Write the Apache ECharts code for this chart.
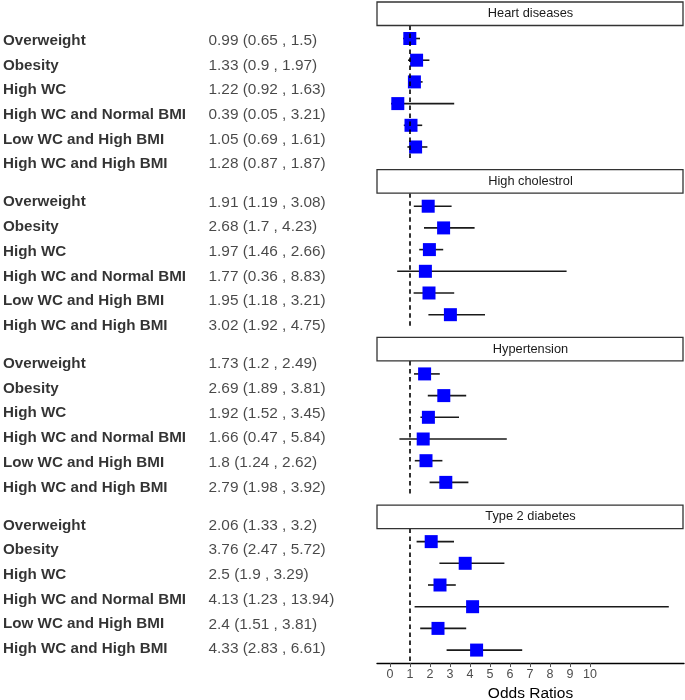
<!DOCTYPE html>
<html>
<head>
<meta charset="utf-8">
<script src="https://cdn.jsdelivr.net/npm/echarts@6/dist/echarts.min.js"></script>
<style>
  html, body { margin: 0; padding: 0; background: #fff; }
  #chart { width: 685px; height: 700px; }
</style>
</head>
<body>
<div id="chart"></div>
<script>
// panel titles and row labels
const panels = ['Heart diseases', 'High cholestrol', 'Hypertension', 'Type 2 diabetes']
const groups = ['Overweight', 'Obesity', 'High WC', 'High WC and Normal BMI', 'Low WC and High BMI', 'High WC and High BMI']

// odds ratios with 95% CI, one set per panel
const heartOR = [0.99, 1.33, 1.22, 0.39, 1.05, 1.28]
const heartLow = [0.65, 0.9, 0.92, 0.05, 0.69, 0.87]
const heartHigh = [1.5, 1.97, 1.63, 3.21, 1.61, 1.87]

const cholOR = [1.91, 2.68, 1.97, 1.77, 1.95, 3.02]
const cholLow = [1.19, 1.7, 1.46, 0.36, 1.18, 1.92]
const cholHigh = [3.08, 4.23, 2.66, 8.83, 3.21, 4.75]

const hyperOR = [1.73, 2.69, 1.92, 1.66, 1.8, 2.79]
const hyperLow = [1.2, 1.89, 1.52, 0.47, 1.24, 1.98]
const hyperHigh = [2.49, 3.81, 3.45, 5.84, 2.62, 3.92]

const diabOR = [2.06, 3.76, 2.5, 4.13, 2.4, 4.33]
const diabLow = [1.33, 2.47, 1.9, 1.23, 1.51, 2.83]
const diabHigh = [3.2, 5.72, 3.29, 13.94, 3.81, 6.61]

const xTicks = [0, 1, 2, 3, 4, 5, 6, 7, 8, 9, 10]
const refLine = 1

const panelData = [
    [heartOR, heartLow, heartHigh],
    [cholOR, cholLow, cholHigh],
    [hyperOR, hyperLow, hyperHigh],
    [diabOR, diabLow, diabHigh]
]

// layout
const plotLeft = 377, plotRight = 1
const stripTop = 2, stripH = 23.5, panelStep = 167.7, panelH = 134.5
const textTop = 40.7, textStep = 161.6, rowStep = 24.7

const grid = [], xAxis = [], yAxis = [], series = [], graphic = []

panelData.forEach(function(d, p) {
    const or = d[0], lo = d[1], hi = d[2]
    const last = p === panelData.length - 1

    // plot grid
    grid.push({
        left: plotLeft, right: plotRight, top: stripTop + stripH + p * panelStep, height: panelH,
        containLabel: false, outerBoundsMode: 'none'
    })
    xAxis.push({
        gridIndex: p * 2, type: 'value', min: -0.65, max: 14.7,
        show: true,
        splitLine: { show: false },
        axisLine: { show: last, onZero: false, lineStyle: { color: '#000', width: 1.4 } },
        axisTick: { show: last, customValues: xTicks, length: 4, lineStyle: { color: '#555' } },
        axisLabel: { show: last, customValues: xTicks, color: '#4d4d4d', fontSize: 12.5, margin: 5, fontFamily: 'Liberation Sans' },
        name: last ? 'Odds Ratios' : '',
        nameLocation: 'middle', nameGap: 23,
        nameTextStyle: { color: '#000', fontSize: 15.5, fontFamily: 'Liberation Sans' }
    })
    yAxis.push({ gridIndex: p * 2, type: 'value', min: -0.6, max: 5.6, inverse: true, show: false })

    // text table grid
    grid.push({
        left: 2.5, width: 205.5, top: textTop - rowStep / 2 + p * textStep, height: rowStep * 6,
        containLabel: false, outerBoundsMode: 'none'
    })
    xAxis.push({ gridIndex: p * 2 + 1, type: 'category', data: ['name', 'value'], boundaryGap: false, show: false })
    yAxis.push({ gridIndex: p * 2 + 1, type: 'value', min: -0.5, max: 5.5, inverse: true, show: false })

    // CI lines
    series.push({
        type: 'custom', xAxisIndex: p * 2, yAxisIndex: p * 2, z: 2,
        data: groups.map(function(g, i) { return [lo[i], hi[i], i] }),
        encode: { x: [0, 1], y: 2 },
        renderItem: function(params, api) {
            const a = api.coord([api.value(0), api.value(2)])
            const b = api.coord([api.value(1), api.value(2)])
            return {
                type: 'line',
                shape: { x1: a[0], y1: a[1], x2: b[0], y2: b[1] },
                style: { stroke: '#1a1a1a', lineWidth: 1.6 }
            }
        }
    })
    // point estimates
    series.push({
        type: 'scatter', xAxisIndex: p * 2, yAxisIndex: p * 2, z: 3,
        symbol: 'rect', symbolSize: 13,
        itemStyle: { color: '#0000ff', opacity: 1 },
        data: groups.map(function(g, i) { return [or[i], i] }),
        markLine: {
            silent: true, symbol: 'none', z: 5,
            label: { show: false },
            lineStyle: { color: '#000', width: 1.6, type: [4.5, 3.5] },
            data: [{ xAxis: refLine }]
        }
    })
    // row names
    series.push({
        type: 'scatter', xAxisIndex: p * 2 + 1, yAxisIndex: p * 2 + 1,
        symbolSize: 1, itemStyle: { color: 'transparent' }, silent: true,
        data: groups.map(function(g, i) { return ['name', i] }),
        label: {
            show: true, position: 'right', distance: 0,
            formatter: function(q) { return groups[q.dataIndex] },
            color: '#000', fontWeight: 'bold', fontSize: 15.2, fontFamily: 'Liberation Sans'
        }
    })
    // OR (CI) text
    series.push({
        type: 'scatter', xAxisIndex: p * 2 + 1, yAxisIndex: p * 2 + 1,
        symbolSize: 1, itemStyle: { color: 'transparent' }, silent: true,
        data: groups.map(function(g, i) { return ['value', i] }),
        label: {
            show: true, position: 'right', distance: 0,
            formatter: function(q) {
                const i = q.dataIndex
                return or[i] + ' (' + lo[i] + ' , ' + hi[i] + ')'
            },
            color: '#1a1a1a', fontSize: 15.4, fontFamily: 'Liberation Sans'
        }
    })

    // facet strip
    const sy = stripTop + p * panelStep
    graphic.push({
        type: 'rect', z: 10,
        shape: { x: plotLeft, y: sy, width: 685 - plotLeft - plotRight - 1, height: stripH },
        style: { fill: '#fff', stroke: '#333', lineWidth: 1.3 }
    })
    graphic.push({
        type: 'text', z: 11,
        x: (plotLeft + 684) / 2, y: sy + stripH / 2,
        style: {
            text: panels[p], fill: '#1a1a1a', fontSize: 12.8, fontFamily: 'Liberation Sans',
            textAlign: 'center', textVerticalAlign: 'middle'
        }
    })
})

const myChart = echarts.init(document.getElementById('chart'), null, { renderer: 'canvas' })
myChart.setOption({
    animation: false,
    backgroundColor: '#fff',
    grid: grid,
    xAxis: xAxis,
    yAxis: yAxis,
    series: series,
    graphic: graphic
})
</script>
</body>
</html>
